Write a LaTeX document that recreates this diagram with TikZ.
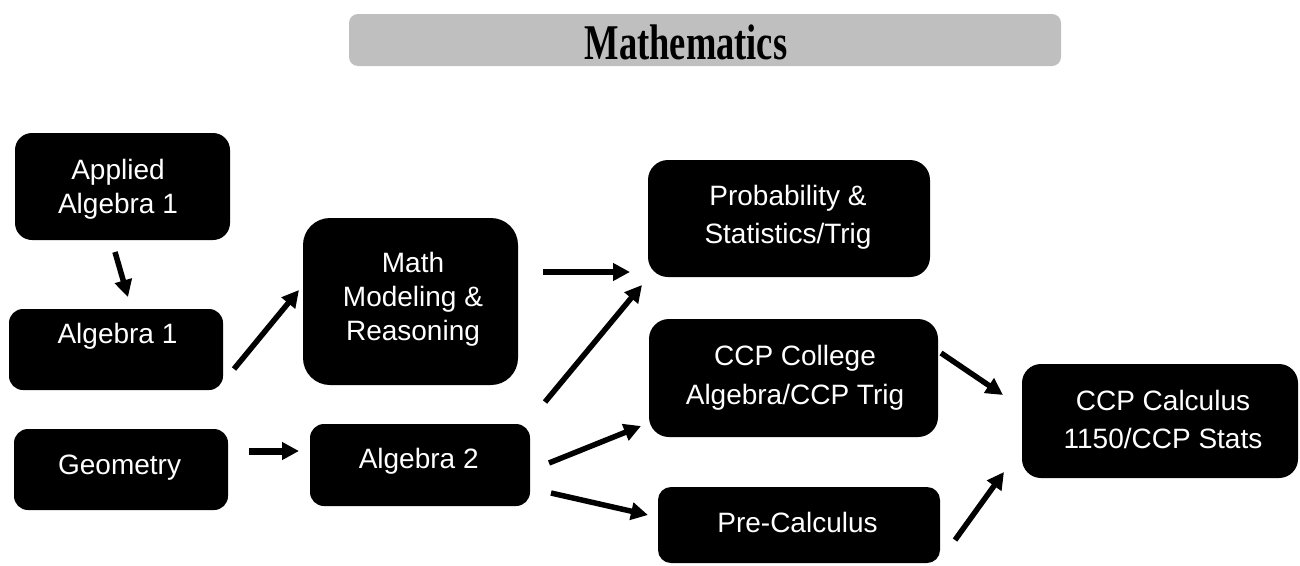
\documentclass[tikz,border=0pt]{standalone}
\usepackage{graphicx}
\usepackage{fontspec}
\setmainfont{Liberation Sans}
\newfontfamily\titlefont{Liberation Serif}
\usetikzlibrary{arrows.meta}
\definecolor{titlegray}{RGB}{191,191,191}
\newcommand\mlines[2]{\fontsize{28}{#1}\selectfont\begin{tabular}[t]{@{}c@{}}#2\end{tabular}}
\begin{document}
\begin{tikzpicture}[x=1pt,y=-1pt,
  box/.style={rectangle, fill=black, draw=none, inner sep=0pt},
  titlebox/.style={rectangle, fill=titlegray, draw=none, inner sep=0pt, rounded corners=9pt},
  txt/.style={text=white, inner sep=0pt, anchor=base},
  arr/.style={line width=5.5pt, -{Triangle[length=17pt,width=17pt]}},
]
\useasboundingbox (0,0) rectangle (1300,565);

% title
\node[titlebox, minimum width=712pt, minimum height=52pt] (title) at (705,40) {};
\node[inner sep=0pt, anchor=base] (title-t) at (686,59)
  {\scalebox{0.73}[1]{\titlefont\bfseries\fontsize{50}{50}\selectfont Mathematics}};

% boxes
\node[box, rounded corners=17pt, minimum width=215pt, minimum height=107pt] (appl) at (122.5,186.5) {};
\node[box, rounded corners=14pt, minimum width=214pt, minimum height=81pt] (alg1) at (116,349.5) {};
\node[box, rounded corners=27pt, minimum width=215pt, minimum height=167pt] (mmr) at (410.5,301.5) {};
\node[box, rounded corners=14pt, minimum width=214pt, minimum height=81pt] (geo) at (121,469.5) {};
\node[box, rounded corners=14pt, minimum width=220pt, minimum height=82pt] (alg2) at (420,465) {};
\node[box, rounded corners=20pt, minimum width=282pt, minimum height=117pt] (prob) at (789,218.5) {};
\node[box, rounded corners=20pt, minimum width=289pt, minimum height=118pt] (ccpc) at (793.5,378) {};
\node[box, rounded corners=13pt, minimum width=282pt, minimum height=76pt] (prec) at (799,525) {};
\node[box, rounded corners=19pt, minimum width=276pt, minimum height=114pt] (calc) at (1160,421) {};

% texts
\node[txt] (appl-t) at (118,179) {\mlines{34}{Applied\\Algebra 1}};
\node[txt] (alg1-t) at (117.5,343) {\mlines{34}{Algebra 1}};
\node[txt] (mmr-t) at (413,272) {\mlines{34}{Math\\Modeling \&\\Reasoning}};
\node[txt] (geo-t) at (119.6,474) {\mlines{34}{Geometry}};
\node[txt] (alg2-t) at (418.7,468) {\mlines{34}{Algebra 2}};
\node[txt] (prob-t) at (788,205) {\mlines{38.5}{Probability \&\\Statistics/Trig}};
\node[txt] (ccpc-t) at (795,365) {\mlines{39}{CCP College\\Algebra/CCP Trig}};
\node[txt] (prec-t) at (797.5,532) {\mlines{34}{Pre-Calculus}};
\node[txt] (calc-t) at (1163,410) {\mlines{38}{CCP Calculus\\1150/CCP Stats}};

% arrow end points
\coordinate (a1s) at (115,252);  \coordinate (a1e) at (128,297);
\coordinate (a2s) at (234,369);  \coordinate (a2e) at (299,290);
\coordinate (a3s) at (249,451);  \coordinate (a3e) at (299,451);
\coordinate (a4s) at (543,272);  \coordinate (a4e) at (630,272);
\coordinate (a5s) at (545,402);  \coordinate (a5e) at (642,285);
\coordinate (a6s) at (549,463);  \coordinate (a6e) at (641,426);
\coordinate (a7s) at (551,493);  \coordinate (a7e) at (648,515);
\coordinate (a8s) at (941,353);  \coordinate (a8e) at (1003,395);
\coordinate (a9s) at (955,540);  \coordinate (a9e) at (1004,472);

\draw[arr] (a1s) -- (a1e);
\draw[arr] (a2s) -- (a2e);
\draw[arr, line width=7pt] (a3s) -- (a3e);
\draw[arr] (a4s) -- (a4e);
\draw[arr] (a5s) -- (a5e);
\draw[arr] (a6s) -- (a6e);
\draw[arr] (a7s) -- (a7e);
\draw[arr] (a8s) -- (a8e);
\draw[arr] (a9s) -- (a9e);
\end{tikzpicture}
\end{document}
